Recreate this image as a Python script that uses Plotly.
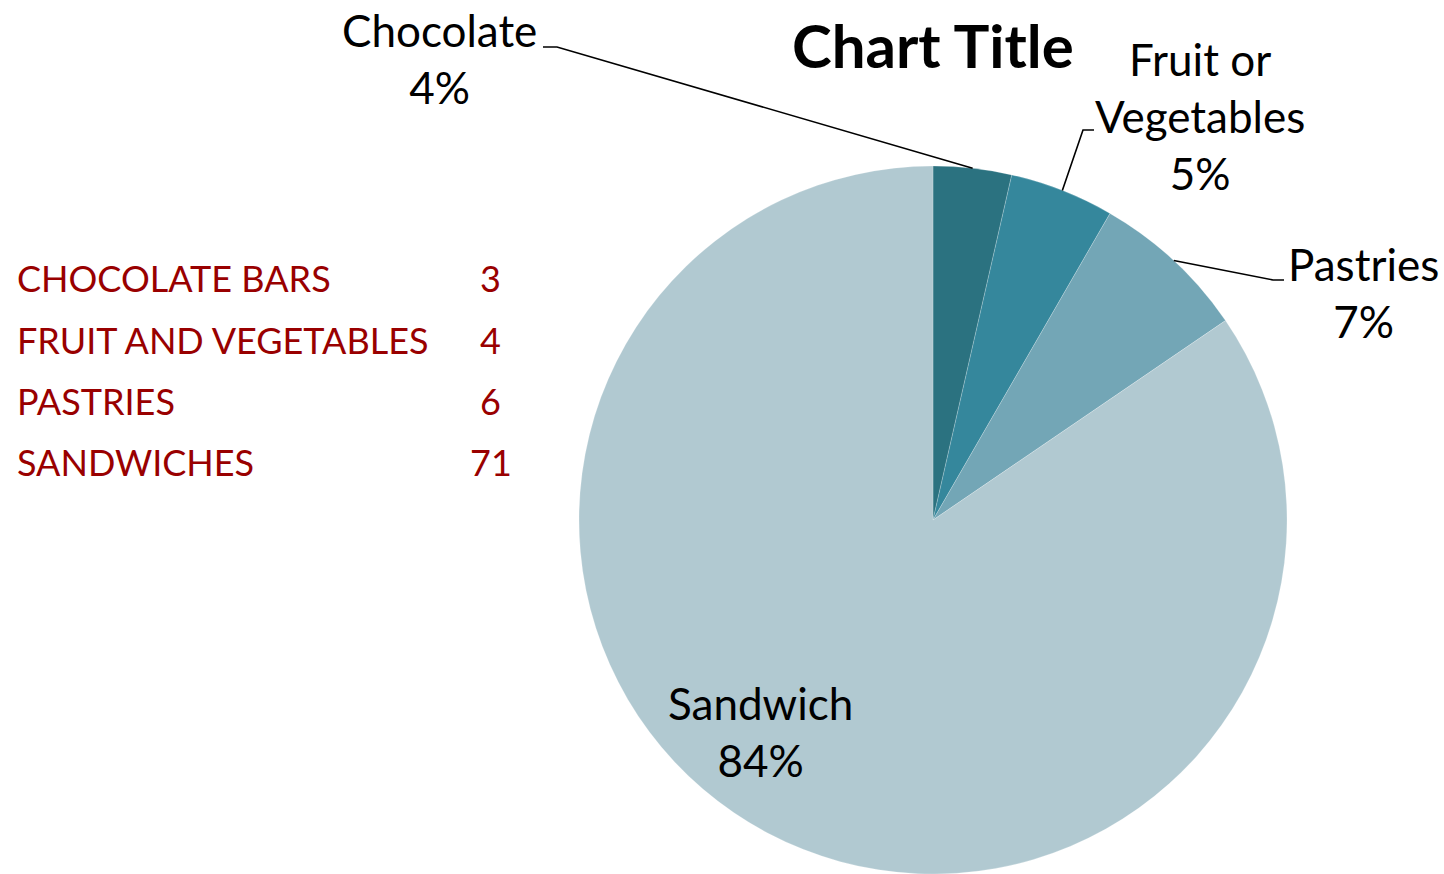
import math
import plotly.graph_objects as go

# Snack sales by category
categories = ["Chocolate", "Fruit or Vegetables", "Pastries", "Sandwich"]
table_labels = ["CHOCOLATE BARS", "FRUIT AND VEGETABLES", "PASTRIES", "SANDWICHES"]
counts = [3, 4, 6, 71]
pct_labels = ["4%", "5%", "7%", "84%"]
slice_colors = ["#2B7280", "#35879C", "#73A6B6", "#B1C9D1"]

W, H = 1444, 874
FONT = "Lato"


def px(x):
    return x / W


def py(y):
    return 1 - y / H


# pie geometry in pixels
pie_left, pie_right, pie_top, pie_bottom = 579, 1287, 166, 874
cx = (pie_left + pie_right) / 2
cy = (pie_top + pie_bottom) / 2
r = (pie_right - pie_left) / 2

fig = go.Figure(
    go.Pie(
        labels=categories,
        values=counts,
        sort=False,
        direction="clockwise",
        rotation=0,
        marker=dict(colors=slice_colors, line=dict(color="rgba(255,255,255,0.35)", width=0.6)),
        textinfo="none",
        hoverinfo="skip",
        showlegend=False,
        domain=dict(x=[px(pie_left), px(pie_right)], y=[0, py(pie_top)]),
    )
)

# slice label placement (text centre) and leader-line elbows
label_pos = [(439, 58), (1200, 116), (1363, 292), (760, 731)]
elbows = [((557, 47), (543, 47)), ((1083, 130), (1094, 130)), ((1273, 280), (1284, 280)), None]

total = sum(counts)
cum = 0
annotations = []
shapes = []
for i, (name, v) in enumerate(zip(categories, counts)):
    mid = (cum + v / 2) / total * 2 * math.pi
    cum += v
    text_name = name.replace(" or ", " or<br>") if " or " in name else name
    lx, ly = label_pos[i]
    annotations.append(dict(
        x=px(lx), y=py(ly), xref="paper", yref="paper",
        text=f"{text_name}<br>{pct_labels[i]}", showarrow=False,
        xanchor="center", yanchor="middle", align="center",
        font=dict(family=FONT, size=44, color="#000000"),
    ))
    if elbows[i] is not None:
        sx = cx + r * math.sin(mid)
        sy = cy - r * math.cos(mid)
        (ex, ey), (tx, ty) = elbows[i]
        path = f"M {px(sx)},{py(sy)} L {px(ex)},{py(ey)} L {px(tx)},{py(ty)}"
        shapes.append(dict(type="path", path=path, xref="paper", yref="paper",
                           line=dict(color="#000000", width=1.6)))

# chart title
annotations.append(dict(
    x=px(933), y=py(45), xref="paper", yref="paper", text="<b>Chart Title</b>",
    showarrow=False, xanchor="center", yanchor="middle",
    font=dict(family=FONT, size=60, color="#000000"),
))

# data table on the left
row_y = [278, 340, 401, 462]
for name, v, y in zip(table_labels, counts, row_y):
    annotations.append(dict(
        x=px(15), y=py(y), xref="paper", yref="paper", text=name, showarrow=False,
        xanchor="left", yanchor="middle",
        font=dict(family=FONT, size=36, color="#990000"),
    ))
    annotations.append(dict(
        x=px(491), y=py(y), xref="paper", yref="paper", text=str(v), showarrow=False,
        xanchor="center", yanchor="middle",
        font=dict(family=FONT, size=36, color="#990000"),
    ))

fig.update_layout(
    width=W, height=H,
    margin=dict(l=0, r=0, t=0, b=0),
    paper_bgcolor="#FFFFFF",
    plot_bgcolor="#FFFFFF",
    annotations=annotations,
    shapes=shapes,
)

fig.write_html("out.html")
